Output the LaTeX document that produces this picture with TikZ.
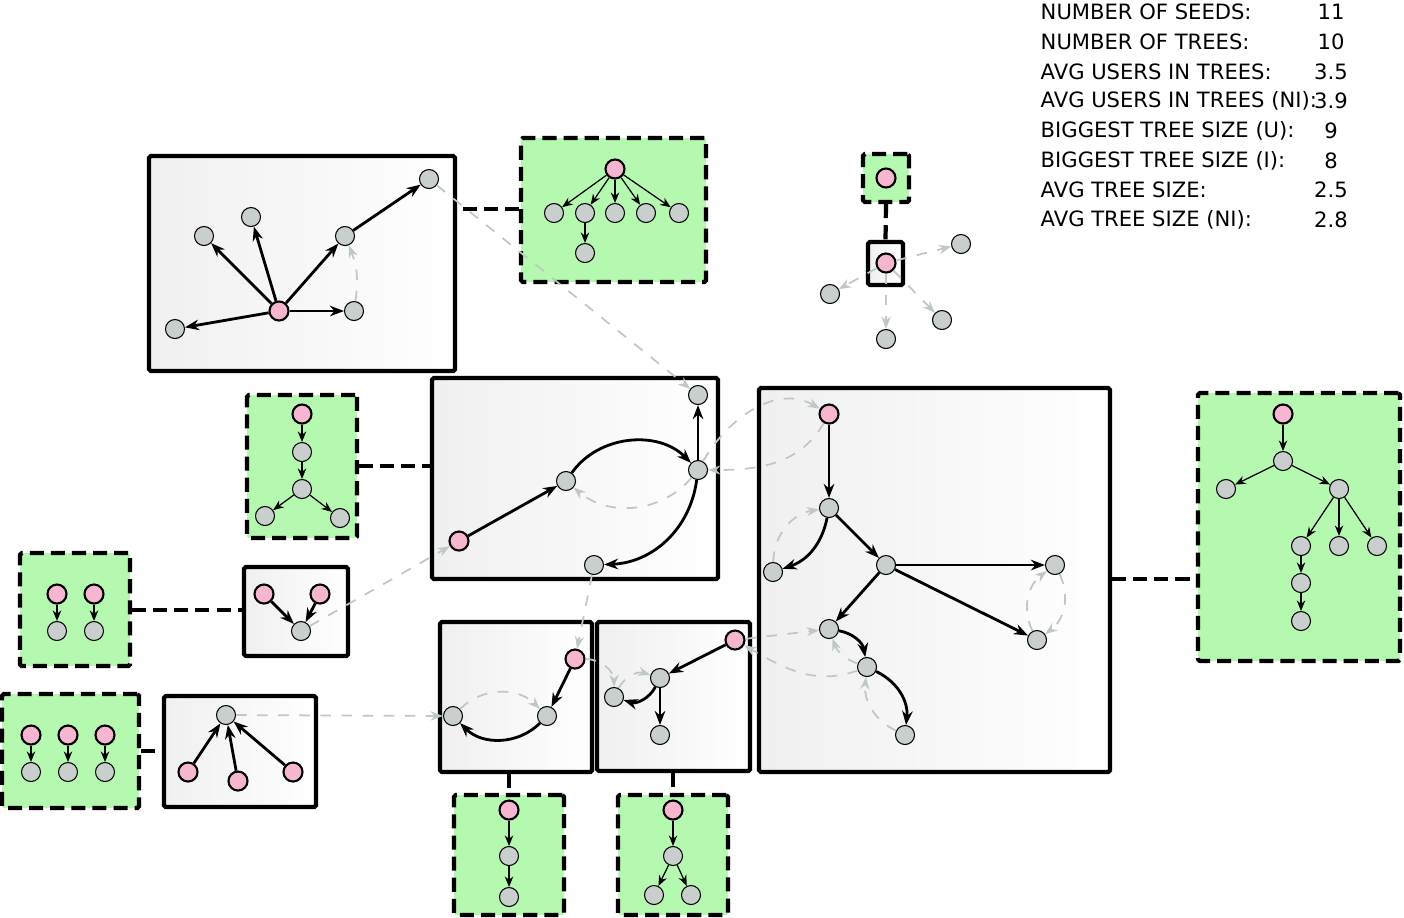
\documentclass[tikz,border=0pt]{standalone}
\usepackage{fontspec}
\setmainfont{DejaVu Sans}
\usetikzlibrary{arrows.meta}
\definecolor{usergray}{HTML}{C8CFCD}
\definecolor{seedpink}{HTML}{F7B6CF}
\definecolor{treegreen}{HTML}{B5F8B0}
\definecolor{linkgray}{HTML}{BFC8C5}
\tikzset{user/.style = {draw, fill=usergray, circle, line width=0.3pt, minimum size=0.19cm, inner sep=0pt},
         seed/.style = {draw, fill=seedpink, circle, line width=0.6pt, minimum size=0.19cm, inner sep=0pt},
         cluster/.style = {draw, very thick, rounded corners=0.5pt, left color=gray!12, right color=white, inner sep=0pt},
         tree/.style = {draw, very thick, dashed, dash pattern=on 4pt off 2pt, rounded corners=0.5pt, fill=treegreen, inner sep=0pt},
         link/.style = {->, >={Stealth[length=4pt,width=3pt]}, thick},
         tlink/.style = {->, >={Stealth[length=3pt,width=2.4pt]}, line width=0.35pt},
         cross/.style = {->, >={Stealth[length=3.5pt,width=2.6pt]}, linkgray, dashed, line width=0.5pt},
         treejoin/.style = {very thick, dashed, dash pattern=on 4pt off 2pt}}
\newcommand\panel[6]{\node[#1, minimum width={(#5-#3)*0.01cm}, minimum height={(#6-#4)*0.01cm}] (#2) at ({(#3+#5)/2},{(#4+#6)/2}) {};}
\begin{document}
\begin{tikzpicture}[x=0.01cm, y=-0.01cm]
    \useasboundingbox (0,0) rectangle (1404,917);
    % statistics
    \foreach \lab/\val [count=\i from 0] in {NUMBER OF SEEDS:/11, NUMBER OF TREES:/10, AVG USERS IN TREES:/3.5,
        AVG USERS IN TREES (NI):/3.9, BIGGEST TREE SIZE (U):/9, BIGGEST TREE SIZE (I):/8,
        AVG TREE SIZE:/2.5, AVG TREE SIZE (NI):/2.8}
    {
        \node[anchor=west, font=\fontsize{6}{7}\selectfont, inner sep=0pt] (s\i) at (1040, 12+29.7*\i) {\lab};
        \node[font=\fontsize{6}{7}\selectfont, inner sep=0pt] (v\i) at (1331, 12+29.7*\i) {\val};
    }

    % boxes
    \panel{cluster}{A}{149}{156}{455}{371}
    \panel{cluster}{B}{432}{378}{718}{579}
    \panel{cluster}{C}{759}{388}{1110}{772}
    \panel{cluster}{D}{597}{622}{750}{771}
    \panel{cluster}{E}{440}{622}{592}{772}
    \panel{cluster}{F}{164}{696}{316}{807}
    \panel{cluster}{H}{244}{567}{348}{656}
    \panel{cluster}{I}{868}{242}{903}{285}
    \panel{tree}{G1}{521}{138}{706}{282}
    \panel{tree}{G2}{247}{395}{357}{538}
    \panel{tree}{G3}{1198}{393}{1400}{661}
    \panel{tree}{G4}{618}{795}{728}{915}
    \panel{tree}{G5}{454}{795}{564}{915}
    \panel{tree}{G6}{2}{694}{139}{808}
    \panel{tree}{G7}{20}{553}{130}{666}
    \panel{tree}{G8}{863}{154}{909}{202}

    \draw[treejoin] (G1.west |- 0,209) -- (A.east |- 0,209);
    \draw[treejoin] (G2.east |- 0,466) -- (B.west |- 0,466);
    \draw[treejoin] (C.east |- 0,579) -- (G3.west |- 0,579);
    \draw[treejoin] (D.south -| 673,0) -- (G4.north -| 673,0);
    \draw[treejoin] (E.south -| 509,0) -- (G5.north -| 509,0);
    \draw[treejoin] (G6.east |- 0,751) -- (F.west |- 0,751);
    \draw[treejoin] (G7.east |- 0,610) -- (H.west |- 0,610);
    \draw[treejoin] (G8.south) -- (I.north);

    % box A
    \node[seed] (a0) at (279,311) {};
    \node[user] (a1) at (204,236) {};
    \node[user] (a2) at (251,217) {};
    \node[user] (a3) at (345,236) {};
    \node[user] (a4) at (429,179) {};
    \node[user] (a5) at (354,311) {};
    \node[user] (a6) at (175,329) {};
    \foreach \t in {a1,a2,a3,a5,a6} \draw[link] (a0) -- (\t);
    \draw[link] (a3) -- (a4);
    \draw[cross] (a5) to[bend right=15] (a3);

    % box B
    \node[seed] (b0) at (459,541) {};
    \node[user] (b1) at (566,481) {};
    \node[user] (b2) at (698,470) {};
    \node[user] (b3) at (698,395) {};
    \node[user] (b4) at (594,565) {};
    \draw[link] (b0) -- (b1);
    \draw[link] (b1) to[bend left=50] (b2);
    \draw[link] (b2) -- (b3);
    \draw[link] (b2) to[bend left=40] (b4);
    \draw[cross] (b2) to[bend left=45] (b1);

    % box C
    \node[seed] (c0) at (829,414) {};
    \node[user] (c1) at (829,508) {};
    \node[user] (c2) at (773,572) {};
    \node[user] (c3) at (886,565) {};
    \node[user] (c4) at (1055,565) {};
    \node[user] (c5) at (1037,640) {};
    \node[user] (c6) at (829,629) {};
    \node[user] (c7) at (867,667) {};
    \node[user] (c8) at (905,735) {};
    \draw[link] (c0) -- (c1);
    \draw[link] (c1) to[bend left=30] (c2);
    \draw[link] (c1) -- (c3);
    \draw[link] (c3) -- (c4);
    \draw[link] (c3) -- (c5);
    \draw[link] (c3) -- (c6);
    \draw[link] (c6) to[bend left=35] (c7);
    \draw[link] (c7) to[bend left=35] (c8);
    \draw[cross] (c2) to[bend left=40] (c1);
    \draw[cross] (c5) to[bend left=40] (c4);
    \draw[cross] (c4) to[bend left=40] (c5);
    \draw[cross] (c7) to[bend left=25] (c6);
    \draw[cross] (c8) to[bend left=35] (c7);

    % box D
    \node[seed] (d0) at (735,640) {};
    \node[user] (d1) at (660,678) {};
    \node[user] (d2) at (614,697) {};
    \node[user] (d3) at (660,735) {};
    \draw[link] (d0) -- (d1);
    \draw[link] (d1) to[bend left=40] (d2);
    \draw[link] (d1) -- (d3);
    \draw[cross] (d2) to[bend left=40] (d1);

    % box E
    \node[seed] (e0) at (575,659) {};
    \node[user] (e1) at (547,716) {};
    \node[user] (e2) at (453,716) {};
    \draw[link] (e0) -- (e1);
    \draw[link] (e1) to[bend left=45] (e2);
    \draw[cross] (e2) to[bend left=45] (e1);

    % box F
    \node[user] (f0) at (226,715) {};
    \node[seed] (f1) at (188,772) {};
    \node[seed] (f2) at (238,781) {};
    \node[seed] (f3) at (293,772) {};
    \foreach \s in {f1,f2,f3} \draw[link] (\s) -- (f0);

    % box H
    \node[seed] (h1) at (264,594) {};
    \node[seed] (h2) at (320,594) {};
    \node[user] (h0) at (301,631) {};
    \draw[link] (h1) -- (h0);
    \draw[link] (h2) -- (h0);

    % box I
    \node[seed] (i0) at (886,263) {};
    \node[user] (i1) at (961,244) {};
    \node[user] (i2) at (830,294) {};
    \node[user] (i3) at (886,339) {};
    \node[user] (i4) at (942,320) {};
    \foreach \t in {i1,i2,i3,i4} \draw[cross] (i0) -- (\t);

    % links between boxes
    \draw[cross] (a4) -- (b3);
    \draw[cross] (b2) to[out=60, in=150] (c0);
    \draw[cross] (c0) to[out=240, in=0] (b2);
    \draw[cross] (b4) -- (e0);
    \draw[cross] (e0) to[out=0, in=90] (d2);
    \draw[cross] (d0) -- (c6);
    \draw[cross] (c7) to[out=200, in=-30] (d0);
    \draw[cross] (f0) -- (e2);
    \draw[cross] (h0) -- (b0);

    % trees
    \node[seed] (g10) at (615,169) {};
    \foreach \x [count=\i] in {554,585,615,646,679} {
        \node[user] (g1\i) at (\x,213) {};
        \draw[tlink] (g10) -- (g1\i);
    }
    \node[user] (g16) at (585,253) {};
    \draw[tlink] (g12) -- (g16);

    \node[seed] (g20) at (302,414) {};
    \node[user] (g21) at (302,452) {};
    \node[user] (g22) at (302,489) {};
    \node[user] (g23) at (265,516) {};
    \node[user] (g24) at (340,518) {};
    \draw[tlink] (g20) -- (g21);
    \draw[tlink] (g21) -- (g22);
    \draw[tlink] (g22) -- (g23);
    \draw[tlink] (g22) -- (g24);

    \node[seed] (g30) at (1283,414) {};
    \node[user] (g31) at (1283,461) {};
    \node[user] (g32) at (1226,489) {};
    \node[user] (g33) at (1339,489) {};
    \node[user] (g34) at (1301,546) {};
    \node[user] (g35) at (1339,546) {};
    \node[user] (g36) at (1377,546) {};
    \node[user] (g37) at (1301,583) {};
    \node[user] (g38) at (1301,621) {};
    \draw[tlink] (g30) -- (g31);
    \draw[tlink] (g31) -- (g32);
    \draw[tlink] (g31) -- (g33);
    \draw[tlink] (g33) -- (g34);
    \draw[tlink] (g33) -- (g35);
    \draw[tlink] (g33) -- (g36);
    \draw[tlink] (g34) -- (g37);
    \draw[tlink] (g37) -- (g38);

    \node[seed] (g40) at (673,810) {};
    \node[user] (g41) at (673,856) {};
    \node[user] (g42) at (654,895) {};
    \node[user] (g43) at (691,895) {};
    \draw[tlink] (g40) -- (g41);
    \draw[tlink] (g41) -- (g42);
    \draw[tlink] (g41) -- (g43);

    \node[seed] (g50) at (509,810) {};
    \node[user] (g51) at (509,856) {};
    \node[user] (g52) at (509,897) {};
    \draw[tlink] (g50) -- (g51);
    \draw[tlink] (g51) -- (g52);

    \foreach \x [count=\i] in {31,68,105} {
        \node[seed] (g6s\i) at (\x,735) {};
        \node[user] (g6u\i) at (\x,772) {};
        \draw[tlink] (g6s\i) -- (g6u\i);
    }
    \foreach \x [count=\i] in {57,94} {
        \node[seed] (g7s\i) at (\x,594) {};
        \node[user] (g7u\i) at (\x,631) {};
        \draw[tlink] (g7s\i) -- (g7u\i);
    }
    \node[seed] (g80) at (886,178) {};
\end{tikzpicture}
\end{document}
